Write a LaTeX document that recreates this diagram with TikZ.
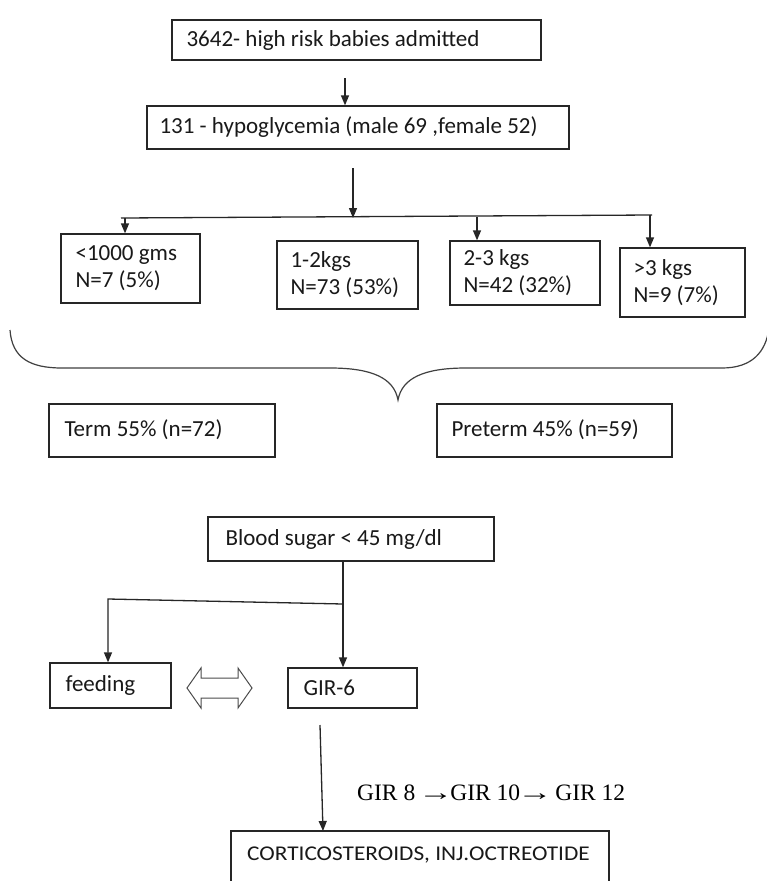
\documentclass[tikz,border=0pt]{standalone}
\usepackage{fontspec}
\setmainfont{Carlito}
\newfontfamily\tnr{Liberation Serif}
\usetikzlibrary{arrows.meta}
\tikzset{
  ln/.style={line width=1.3pt, draw=black!85},
  arr/.style={ln, -{Triangle[length=10pt,width=8pt]}},
  box/.style={ln, rectangle, inner sep=0pt},
  txt/.style={inner sep=0pt, align=left, font=\fontsize{23}{27}\selectfont, text=black!90},
}
\newcommand\mybox[7]{%
  \node[box, minimum width=#4, minimum height=#5] (#1) at ({#2+#4/2},{#3+#5/2}) {};
  \node[txt, anchor=west] (#1t) at ([xshift=#6]#1.west) {#7};}
\newcommand\rar{\kern-3pt\scalebox{1.5}[1]{→}\kern-3pt}
\begin{document}
\begin{tikzpicture}[x=1pt,y=-1pt]
\useasboundingbox[fill=white] (0,0) rectangle (767,881);
% top part
\mybox{b1}{172}{20}{369}{40}{15}{3642- high risk babies admitted}
\mybox{b2}{147}{106}{422}{43}{13}{131 - hypoglycemia (male 69 ,female 52)}
\mybox{w1}{61}{234}{139}{69}{15}{<1000 gms\\N=7 (5\%)}
\mybox{w2}{277}{241}{141}{68}{14}{1-2kgs\\N=73 (53\%)}
\mybox{w3}{450}{241}{150}{64}{14}{2-3 kgs\\N=42 (32\%)}
\mybox{w4}{620}{248}{125}{69}{14}{>3 kgs\\N=9 (7\%)}
\coordinate (c1) at (345,78);
\draw[arr] (c1) -- (c1 |- b2.north);
\coordinate (c2) at (353,168);
\coordinate (hl) at (121,218);
\coordinate (hr) at (652,215);
\draw[ln] (hl) -- (hr);
\draw[arr] (c2) -- (c2 |- hl);
\coordinate (d1) at (125,218);
\coordinate (d3) at (477,217);
\coordinate (d4) at (650,215);
\draw[arr] (d1) -- (d1 |- w1.north);
\draw[arr] (d3) -- (d3 |- w3.north);
\draw[arr] (d4) -- (d4 |- w4.north);
% brace
\draw[line width=1.2pt, draw=black!75] (10,330) .. controls (12,358) and (30,368) .. (62,368)
  -- (330,368) .. controls (372,368) and (394,378) .. (398,400)
  .. controls (402,378) and (424,368) .. (466,368)
  -- (722,368) .. controls (752,368) and (766,352) .. (769,328);
\mybox{term}{49}{404}{226}{53}{16}{\raisebox{4pt}{Term 55\% (n=72)}}
\mybox{pre}{437}{404}{235}{53}{15}{\raisebox{4pt}{Preterm 45\% (n=59)}}
% bottom part
\mybox{bs}{208}{517}{286}{44}{18}{Blood sugar < 45 mg/dl}
\mybox{feed}{50}{663}{121}{45}{16}{feeding}
\mybox{gir6}{288}{668}{129}{40}{16}{GIR-6}
\coordinate (e1) at (343,604);
\coordinate (e2) at (108,599);
\draw[arr] (e1 |- bs.south) -- (e1 |- gir6.north);
\draw[arr] (e1) -- (e2) -- (e2 |- feed.north);
% double arrow
\draw[line width=1pt, draw=black!70] (187,688) -- (201,668) -- (201,678) -- (238,678) -- (238,668)
  -- (252,688) -- (238,708) -- (238,698) -- (201,698) -- (201,708) -- cycle;
% GIR text
\node[inner sep=0pt, anchor=west, font=\tnr\fontsize{23.5}{28}\selectfont] (gir) at (357,793) {GIR 8 \rar GIR 10\rar{} GIR 12};
% corticosteroids box (open at bottom)
\draw[ln] (231,885) -- (231,831) -- (609,831) -- (609,885);
\node[txt, anchor=west, font=\fontsize{21}{24}\selectfont] (cort) at (247,855) {\scalebox{1.11}[1]{CORTICOSTEROIDS, INJ.OCTREOTIDE}};
\coordinate (g1) at (320,725);
\coordinate (g2) at (323,831);
\draw[arr] (g1) -- (g2);
\end{tikzpicture}
\end{document}
